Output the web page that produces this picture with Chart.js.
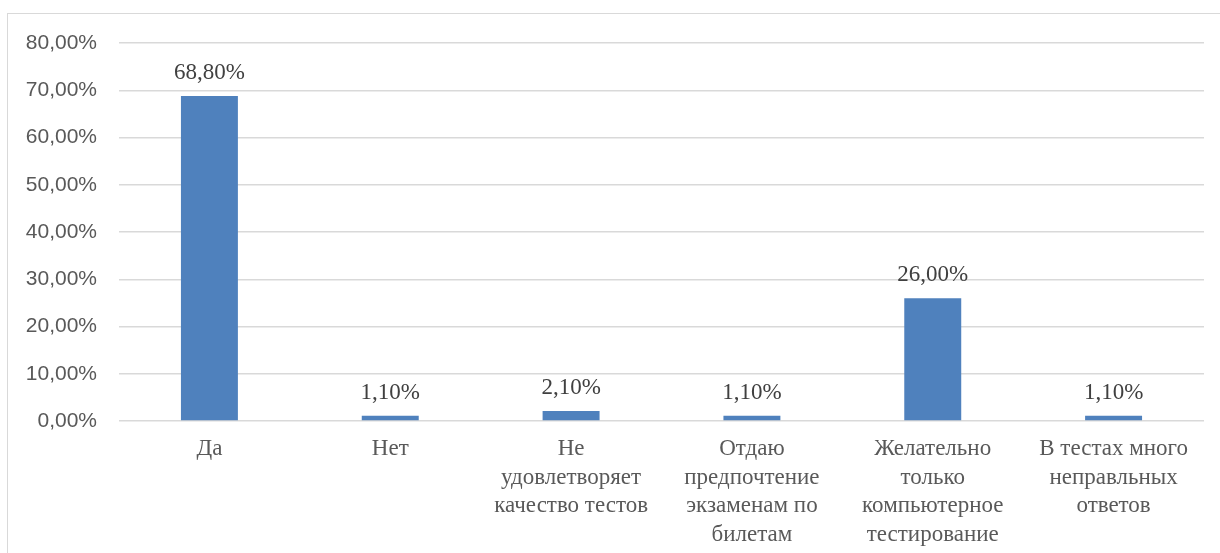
<!DOCTYPE html>
<html>
<head>
<meta charset="utf-8">
<script src="https://cdn.jsdelivr.net/npm/chart.js@4.4.1/dist/chart.umd.min.js"></script>
<style>
    html, body { margin: 0; padding: 0; background: #fff; }
    #wrap { position: relative; width: 1220px; height: 553px; overflow: hidden; }
    #frame { position: absolute; left: 7px; top: 13px; width: 1230px; height: 560px; border: 1px solid #d9d9d9; box-sizing: border-box; }
    #chart { position: absolute; left: 0; top: 0; }
</style>
</head>
<body>
<div id="wrap">
    <div id="frame"></div>
    <canvas id="chart" width="1220" height="553"></canvas>
</div>
<script>
const categories = [
    ['Да'],
    ['Нет'],
    ['Не', 'удовлетворяет', 'качество тестов'],
    ['Отдаю', 'предпочтение', 'экзаменам по', 'билетам'],
    ['Желательно', 'только', 'компьютерное', 'тестирование'],
    ['В тестах много', 'неправльных', 'ответов']
];
const values = [68.8, 1.1, 2.1, 1.1, 26.0, 1.1];
const yMax = 80;
const yStep = 10;

function pct(v) {
    return v.toFixed(2).replace('.', ',') + '%';
}

// simple value labels above the bars
const barLabels = {
    id: 'barLabels',
    afterDatasetsDraw(chart) {
        const ctx = chart.ctx;
        const meta = chart.getDatasetMeta(0);
        ctx.save();
        ctx.font = '23px "Liberation Serif", "Times New Roman", serif';
        ctx.fillStyle = '#404040';
        ctx.textAlign = 'center';
        ctx.textBaseline = 'alphabetic';
        meta.data.forEach((bar, i) => {
            ctx.fillText(pct(values[i]), bar.x, bar.y - 17);
        });
        ctx.restore();
    }
};

new Chart(document.getElementById('chart'), {
    type: 'bar',
    data: {
        labels: categories,
        datasets: [{
            data: values,
            backgroundColor: '#4F81BD',
            categoryPercentage: 1,
            barPercentage: 0.315
        }]
    },
    options: {
        responsive: false,
        animation: false,
        layout: { padding: { top: 43, right: 16, left: 0, bottom: 0 } },
        plugins: {
            legend: { display: false },
            tooltip: { enabled: false }
        },
        scales: {
            x: {
                grid: { display: false, drawTicks: false },
                border: { display: false },
                ticks: {
                    color: '#595959',
                    padding: 14,
                    maxRotation: 0,
                    autoSkip: false,
                    font: { family: '"Liberation Serif", "Times New Roman", serif', size: 23, lineHeight: 1.24 }
                },
                afterFit: (scale) => { scale.height = 132; }
            },
            y: {
                min: 0,
                max: yMax,
                grid: { color: '#d9d9d9', lineWidth: 1.5, drawTicks: false },
                border: { display: false },
                ticks: {
                    stepSize: yStep,
                    color: '#595959',
                    padding: 22,
                    font: { family: '"Liberation Sans", Arial, sans-serif', size: 21 },
                    callback: (v) => pct(v)
                },
                afterFit: (scale) => { scale.width = 119; }
            }
        }
    },
    plugins: [barLabels]
});
</script>
</body>
</html>
